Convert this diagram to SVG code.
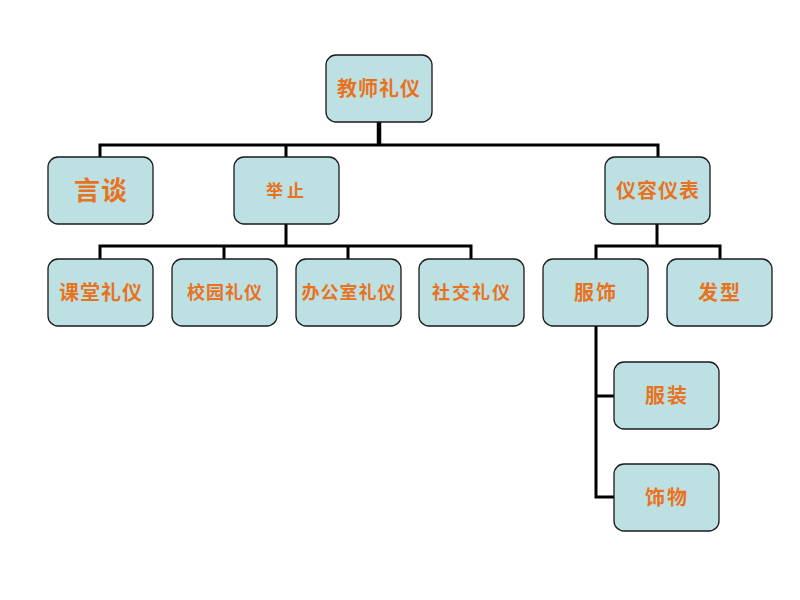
<svg xmlns="http://www.w3.org/2000/svg" width="800" height="600" viewBox="0 0 800 600">
<style>
.n rect{fill:#BDE0E3;stroke:#1a1a1a;stroke-width:1.3}
.n text{font-family:"Liberation Sans","Noto Sans CJK SC",sans-serif;font-weight:bold;font-size:20px;letter-spacing:1px;fill:#E8731F;text-anchor:middle;dominant-baseline:central}
.n text.s{font-size:18px}
.c{fill:none;stroke:#000;stroke-width:3}
</style>
<rect width="800" height="600" fill="#fff"/>
<g id="connectors">
<path class="c" d="M379,122V145" style="stroke-width:4.5"/>
<path class="c" d="M100,157V145H658V157M286,145V157"/>
<path class="c" d="M286,224V246M100,259V246H471V259M224,246V259M348,246V259"/>
<path class="c" d="M657,224V246M596,259V246H720V259"/>
<path class="c" d="M596,326V497H614M596,396H614"/>
</g>
<g id="n-root" class="n"><rect x="326" y="55" width="106" height="67" rx="10"/><text x="379" y="89">教师礼仪</text></g>
<g id="n-yantan" class="n"><rect x="48" y="157" width="105" height="67" rx="10"/><text x="101" y="191" style="font-size:26px">言谈</text></g>
<g id="n-juzhi" class="n"><rect x="234" y="157" width="105" height="67" rx="10"/><text x="287" y="191" style="font-size:17px;letter-spacing:4px">举止</text></g>
<g id="n-yirong" class="n"><rect x="605" y="157" width="105" height="67" rx="10"/><text x="658" y="191">仪容仪表</text></g>
<g id="n-ketang" class="n"><rect x="48" y="259" width="105" height="67" rx="10"/><text x="101" y="293">课堂礼仪</text></g>
<g id="n-xiaoyuan" class="n"><rect x="172" y="259" width="105" height="67" rx="10"/><text class="s" x="225" y="293">校园礼仪</text></g>
<g id="n-bangong" class="n"><rect x="296" y="259" width="105" height="67" rx="10"/><text class="s" x="349" y="293">办公室礼仪</text></g>
<g id="n-shejiao" class="n"><rect x="419" y="259" width="105" height="67" rx="10"/><text class="s" x="472" y="293" style="letter-spacing:2px">社交礼仪</text></g>
<g id="n-fushi" class="n"><rect x="543" y="259" width="105" height="67" rx="10"/><text x="596" y="293" style="letter-spacing:2px">服饰</text></g>
<g id="n-faxing" class="n"><rect x="667" y="259" width="105" height="67" rx="10"/><text x="720" y="293" style="letter-spacing:2px">发型</text></g>
<g id="n-fuzhuang" class="n"><rect x="614" y="362" width="105" height="67" rx="10"/><text x="667" y="396" style="letter-spacing:2px">服装</text></g>
<g id="n-shiwu" class="n"><rect x="614" y="464" width="105" height="67" rx="10"/><text x="667" y="498" style="letter-spacing:2px">饰物</text></g>
</svg>
